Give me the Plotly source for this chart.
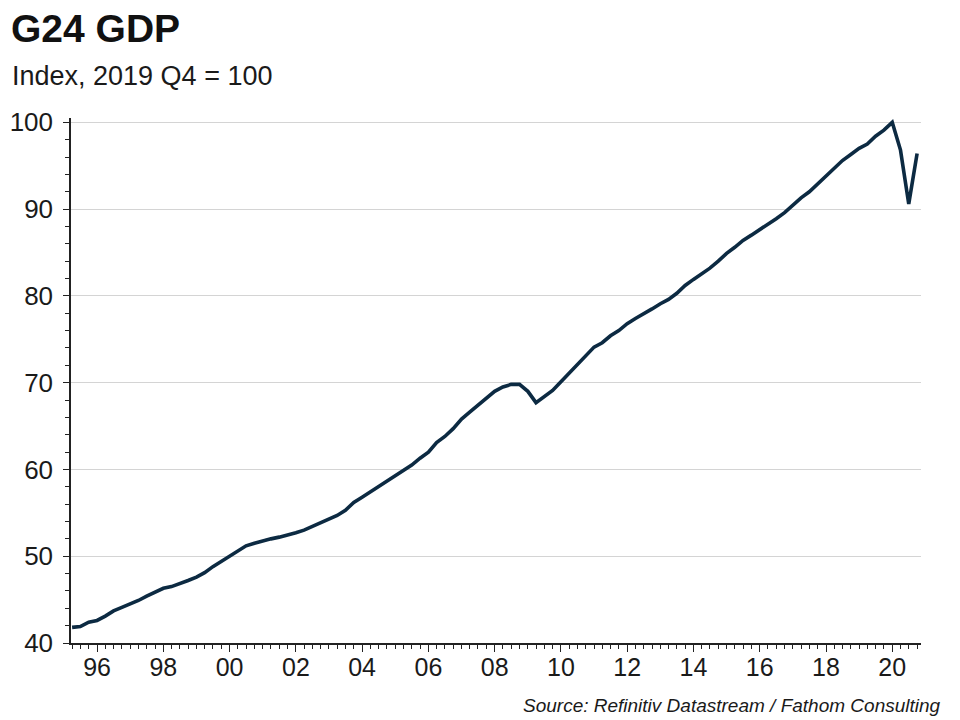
import pandas as pd
import plotly.graph_objects as go

# Quarterly G24 GDP, index 2019 Q4 = 100 (1995 Q1 .. 2020 Q3)
first_quarter = "1995Q1"
last_quarter = "2020Q3"
gdp_index = [
    41.8, 41.9, 42.4, 42.6,   # 1995
    43.1, 43.7, 44.1, 44.5,   # 1996
    44.9, 45.4, 45.8, 46.3,   # 1997
    46.5, 46.8, 47.2, 47.6,   # 1998
    48.1, 48.8, 49.4, 50.0,   # 1999
    50.6, 51.2, 51.5, 51.8,   # 2000
    52.0, 52.2, 52.4, 52.7,   # 2001
    53.0, 53.4, 53.9, 54.3,   # 2002
    54.7, 55.3, 56.2, 56.8,   # 2003
    57.4, 58.0, 58.6, 59.2,   # 2004
    59.8, 60.5, 61.3, 62.0,   # 2005
    63.1, 63.8, 64.7, 65.8,   # 2006
    66.6, 67.4, 68.2, 69.0,   # 2007
    69.5, 69.8, 69.8, 69.0,   # 2008
    67.7, 68.4, 69.1, 70.1,   # 2009
    71.1, 72.2, 73.1, 74.1,   # 2010
    74.6, 75.4, 76.0, 76.8,   # 2011
    77.4, 77.9, 78.5, 79.1,   # 2012
    79.6, 80.3, 81.2, 81.9,   # 2013
    82.5, 83.2, 84.0, 84.9,   # 2014
    85.6, 86.4, 87.0, 87.6,   # 2015
    88.2, 88.9, 89.6, 90.5,   # 2016
    91.3, 92.0, 92.9, 93.8,   # 2017
    94.6, 95.6, 96.3, 97.0,   # 2018
    97.5, 98.4, 99.1, 100.0,  # 2019
    96.8, 90.6, 96.4,         # 2020
]

title_text = "G24 GDP"
subtitle_text = "Index, 2019 Q4 = 100"
source_text = "Source: Refinitiv Datastream / Fathom Consulting"

quarters = pd.period_range(first_quarter, last_quarter, freq="Q")
# plotted at quarter end (= start of following quarter)
x_dates = [(q + 1).start_time for q in quarters]

FONT = "Liberation Sans, Arial, sans-serif"
TEXT = "#1a1a1a"
LINE = "#0c2a42"

fig = go.Figure()
fig.add_trace(go.Scatter(
    x=x_dates, y=gdp_index, mode="lines",
    line=dict(color=LINE, width=3.6),
    hoverinfo="skip", showlegend=False,
))

plot_l, plot_r, plot_t, plot_b = 71, 921, 117.7, 642.7

fig.update_layout(
    width=960, height=720,
    margin=dict(l=plot_l, r=960 - plot_r, t=plot_t, b=720 - plot_b, pad=0),
    paper_bgcolor="white", plot_bgcolor="white",
    font=dict(family=FONT, color=TEXT),
    showlegend=False,
)

fig.update_xaxes(
    type="date",
    range=["1995-03-20", "2020-11-13"],
    tick0="1996-01-01", dtick="M24", tickformat="%y",
    ticks="outside", ticklen=7, tickwidth=1, tickcolor="#222",
    tickfont=dict(size=25, color=TEXT, family=FONT),
    ticklabelstandoff=-6,
    showline=True, linecolor="#222", linewidth=1.5,
    showgrid=False, zeroline=False, automargin=False,
    minor=dict(ticks="outside", ticklen=4, tickwidth=1, tickcolor="#222",
               tick0="1996-01-01", dtick="M3", showgrid=False),
)

fig.update_yaxes(
    range=[40, 100.5],
    tick0=40, dtick=10,
    ticks="outside", ticklen=6, tickwidth=1, tickcolor="#222",
    tickfont=dict(size=26, color=TEXT, family=FONT),
    ticklabelstandoff=5,
    showline=True, linecolor="#222", linewidth=1.5,
    showgrid=True, gridcolor="#d4d4d4", gridwidth=1,
    zeroline=False, automargin=False,
    minor=dict(ticks="outside", ticklen=4, tickwidth=1, tickcolor="#222",
               dtick=2, showgrid=False),
)


def px_to_paper(px, py):
    return (px - plot_l) / (plot_r - plot_l), (plot_b - py) / (plot_b - plot_t)


tx, ty = px_to_paper(9, 28)
sx, sy = px_to_paper(10, 76)
rx, ry = px_to_paper(943, 705)

fig.add_annotation(text=f"<b>{title_text}</b>", x=tx, y=ty, xref="paper", yref="paper",
                   xanchor="left", yanchor="middle", showarrow=False,
                   font=dict(size=39, color="#111", family=FONT))
fig.add_annotation(text=subtitle_text, x=sx, y=sy, xref="paper", yref="paper",
                   xanchor="left", yanchor="middle", showarrow=False,
                   font=dict(size=27, color=TEXT, family=FONT))
fig.add_annotation(text=f"<i>{source_text}</i>", x=rx, y=ry, xref="paper", yref="paper",
                   xanchor="right", yanchor="middle", showarrow=False,
                   font=dict(size=19, color=TEXT, family=FONT))

# remove the browser's default 8px body margin so the figure fills the window
fig.write_html("out.html", config={"displayModeBar": False},
               post_script="document.body.style.margin='0px';")
